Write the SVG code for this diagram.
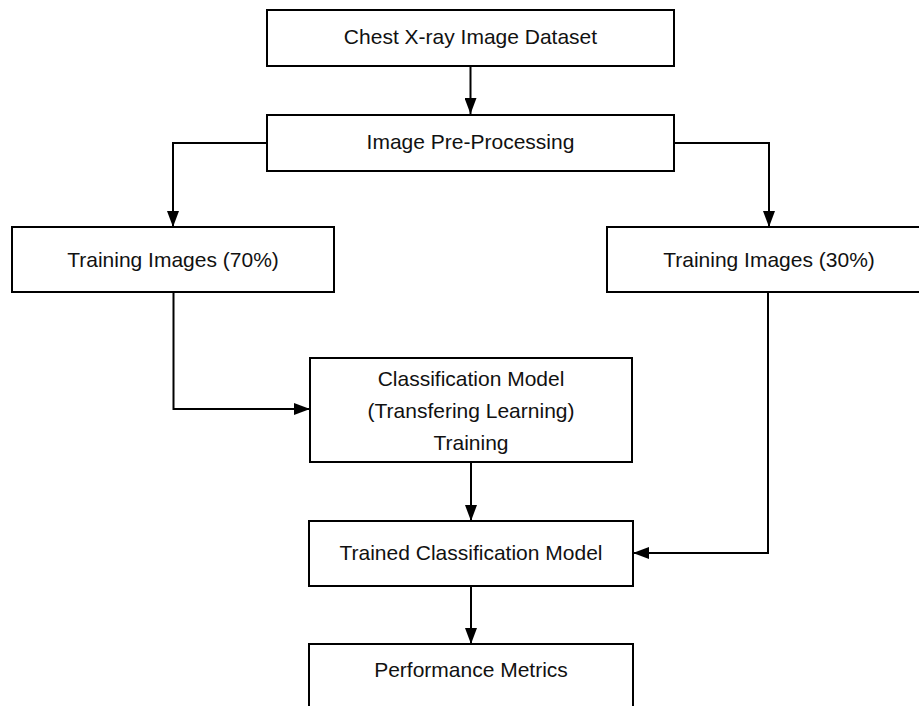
<svg xmlns="http://www.w3.org/2000/svg" width="919" height="706" viewBox="0 0 919 706">
<style>
.box{fill:#fff;stroke:#000;stroke-width:2}
.lbl{font-family:"Liberation Sans",Arial,sans-serif;font-size:21px;fill:#111;text-anchor:middle}
.con{fill:none;stroke:#000;stroke-width:2}
</style>
<defs>
<marker id="ah" markerUnits="userSpaceOnUse" markerWidth="16" markerHeight="12" refX="16" refY="6" orient="auto">
<path d="M0,0 L16,6 L0,12 z" fill="#000"/>
</marker>
</defs>
<rect width="919" height="706" fill="#fff"/>
<g id="connectors">
<path class="con" d="M470.5 66 V114" marker-end="url(#ah)"/>
<path class="con" d="M267 143 H173 V227" marker-end="url(#ah)"/>
<path class="con" d="M674 143 H769 V227" marker-end="url(#ah)"/>
<path class="con" d="M173.5 292 V409 H310" marker-end="url(#ah)"/>
<path class="con" d="M768 292 V553 H633" marker-end="url(#ah)"/>
<path class="con" d="M471 462 V521" marker-end="url(#ah)"/>
<path class="con" d="M471 586 V644" marker-end="url(#ah)"/>
</g>
<g id="dataset">
<rect class="box" x="267" y="10" width="407" height="56"/>
<text class="lbl" x="470.5" y="44">Chest X-ray Image Dataset</text>
</g>
<g id="preprocessing">
<rect class="box" x="267" y="115" width="407" height="56"/>
<text class="lbl" x="470.5" y="149">Image Pre-Processing</text>
</g>
<g id="train70">
<rect class="box" x="12" y="227" width="322" height="65"/>
<text class="lbl" x="173" y="267">Training Images (70%)</text>
</g>
<g id="train30">
<rect class="box" x="607" y="227" width="324" height="65"/>
<text class="lbl" x="769" y="267">Training Images (30%)</text>
</g>
<g id="classification">
<rect class="box" x="310" y="358" width="322" height="104"/>
<text class="lbl" x="471" y="386">Classification Model</text>
<text class="lbl" x="471" y="418">(Transfering Learning)</text>
<text class="lbl" x="471" y="450">Training</text>
</g>
<g id="trained">
<rect class="box" x="309" y="521" width="324" height="65"/>
<text class="lbl" x="471" y="560">Trained Classification Model</text>
</g>
<g id="metrics">
<rect class="box" x="309" y="644" width="324" height="80"/>
<text class="lbl" x="471" y="677">Performance Metrics</text>
</g>
</svg>
